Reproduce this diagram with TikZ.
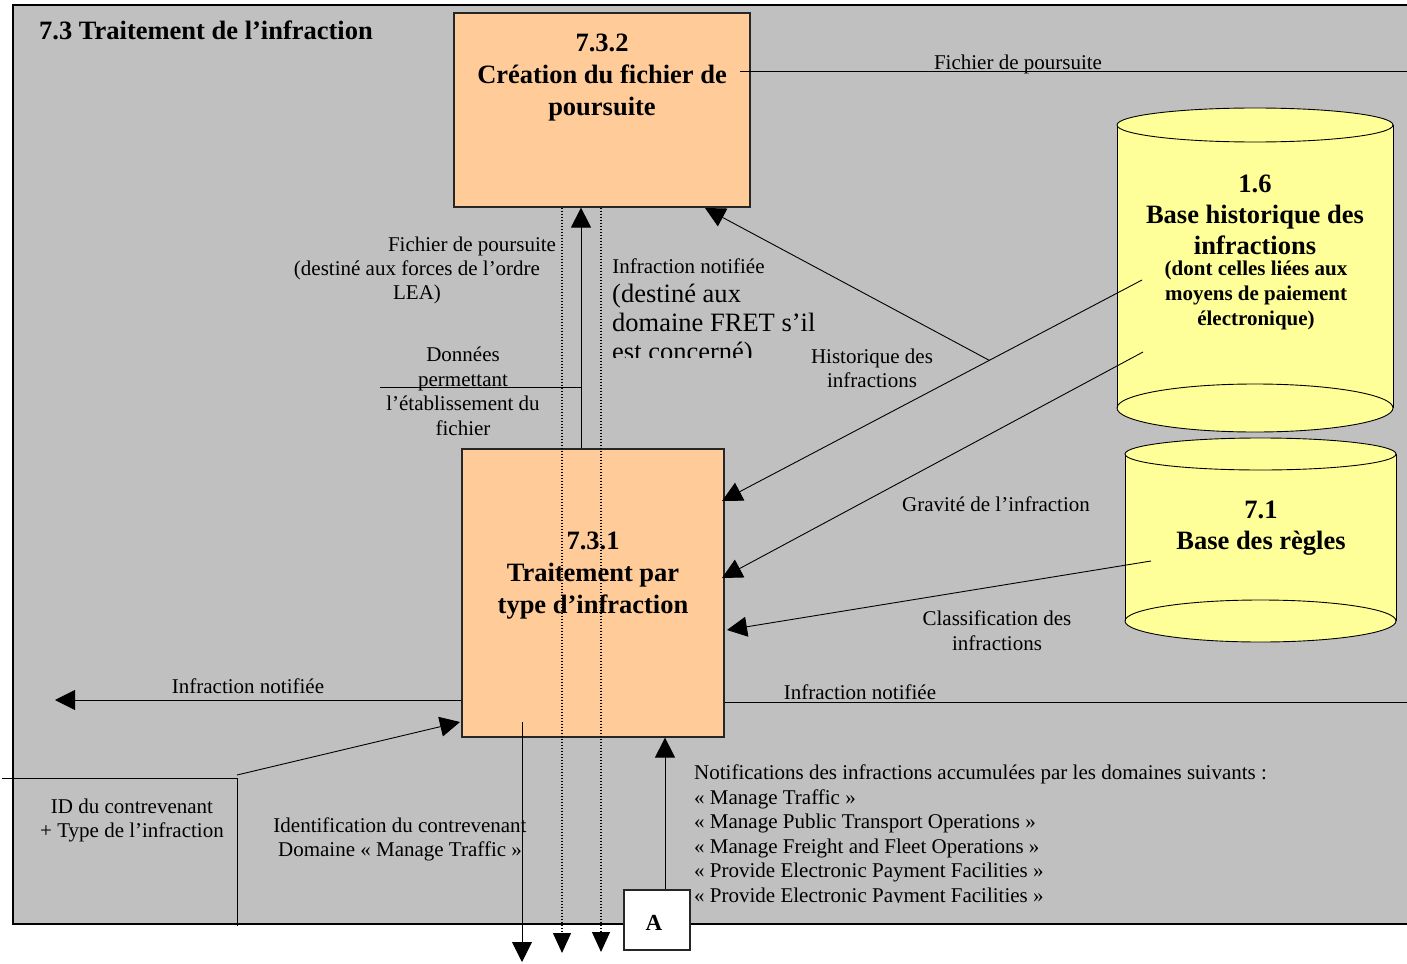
\documentclass[tikz,border=0pt]{standalone}
\usepackage{fontspec}
\setmainfont{Liberation Serif}
\usetikzlibrary{arrows.meta,calc}
\definecolor{panel}{HTML}{C0C0C0}
\definecolor{peach}{HTML}{FFCC99}
\definecolor{store}{HTML}{FFFF99}
\begin{document}
\begin{tikzpicture}[x=1pt,y=-1pt,
  txt/.style={font=\fontsize{21}{24.5}\selectfont, inner sep=0pt, align=center, yshift=-2.5pt},
  bigtxt/.style={font=\fontsize{26.5}{32}\selectfont\bfseries, inner sep=0pt, align=center, yshift=-2.5pt},
  smallbold/.style={font=\fontsize{21}{25}\selectfont\bfseries, inner sep=0pt, align=center, yshift=-2.5pt},
  proc/.style={draw=black!85, fill=peach, line width=1.2pt, inner sep=0pt},
  flow/.style={line width=0.9pt, -{Triangle[length=20pt,width=20pt]}},
  plain/.style={line width=0.9pt},
  dots/.style={line width=1.2pt, dash pattern=on 1.4pt off 1.6pt, -{Triangle[length=20pt,width=18pt]}},
  cyl/.style={fill=store, draw=black, line width=0.9pt}
]
\useasboundingbox (0,0) rectangle (1407,963);
\clip (0,0) rectangle (1407,963);

% panel of the process 7.3
\fill[white] (0,0) rectangle (1407,963);
\draw[fill=panel, line width=1.3pt] (13,5) rectangle (1430,924);
\node[bigtxt, anchor=west] (title) at (39,28) {7.3 Traitement de l’infraction};

% process boxes
\node[proc, minimum width=296pt, minimum height=194pt] (b732) at (602,110) {};
\node[bigtxt] (t732) at (602,75) {7.3.2\\Création du fichier de\\poursuite};
\node[proc, minimum width=262pt, minimum height=288pt] (b731) at (593,593) {};
\node[bigtxt] (t731) at (593,573) {7.3.1\\Traitement par\\type d’infraction};
\node[draw=black!85, fill=white, line width=1.2pt, minimum width=66pt, minimum height=60pt, inner sep=0pt] (boxA) at (657,920) {};
\node[inner sep=0pt, font=\fontsize{23}{26}\selectfont\bfseries] (tA) at (654,923) {A};

% data store 1.6
\fill[store] (1117,125) rectangle (1393,408);
\draw[cyl] (1255,408) ellipse [x radius=138pt, y radius=24pt];
\draw[line width=0.9pt] (1117,125) -- (1117,408) (1393,125) -- (1393,408);
\draw[cyl] (1255,125) ellipse [x radius=138pt, y radius=17pt];
\node[bigtxt, font=\fontsize{26.5}{31}\selectfont\bfseries] (c16) at (1255,212) {1.6\\Base historique des\\infractions};
\node[smallbold] (c16b) at (1256,293) {(dont celles liées aux\\moyens de paiement\\électronique)};

% data store 7.1
\fill[store] (1125,454) rectangle (1396,621);
\draw[cyl] (1260.5,621) ellipse [x radius=135.5pt, y radius=21pt];
\draw[line width=0.9pt] (1125,454) -- (1125,621) (1396,454) -- (1396,621);
\draw[cyl] (1260.5,454) ellipse [x radius=135.5pt, y radius=16pt];
\node[bigtxt, font=\fontsize{26.5}{31}\selectfont\bfseries] (c71) at (1261,526) {7.1\\Base des règles};

% reference points
\coordinate (upx) at (581,0);
\coordinate (d1x) at (562,0);
\coordinate (d2x) at (601,0);
\coordinate (d1end) at (562,953);
\coordinate (d2end) at (601,952);
\coordinate (dnstart) at (522,722);
\coordinate (dnend) at (522,962);
\coordinate (donnees) at (380,387);
\coordinate (fp0) at (740,71);
\coordinate (fp1) at (1430,71);
\coordinate (s1) at (1142,280);
\coordinate (s2) at (1143,352);
\coordinate (s3) at (1151,561);
\coordinate (t1) at (722,501);
\coordinate (t2) at (722,578);
\coordinate (t3) at (727,630);
\coordinate (htip) at (705,208);
\coordinate (inr) at (1430,702);
\coordinate (inl) at (55,700);
\coordinate (idc) at (237,775);
\coordinate (idtip) at (460,722);
\coordinate (idl) at (2,778);
\coordinate (idk) at (237,778);
\coordinate (idb) at (237,926);
\coordinate (ax) at (665,0);

% flows between the two processes
\draw[flow] (b731.north -| upx) -- (b732.south -| upx);
\draw[plain] (donnees) -- (donnees -| upx);
\draw[flow] (dnstart) -- (dnend);
\draw[dots] (b732.south -| d1x) -- (d1end);
\draw[dots] (b732.south -| d2x) -- (d2end);

% flows from the data stores
\draw[plain] (fp0) -- (fp1);
\draw[flow] (s1) -- (t1);
\coordinate (hb) at ($(s1)!0.3636!(t1)$);
\draw[flow] (hb) -- (htip);
\draw[flow] (s2) -- (t2);
\draw[flow] (s3) -- (t3);

% other flows of 7.3.1
\draw[plain] (b731.east |- inr) -- (inr);
\draw[flow] (b731.west |- inl) -- (inl);
\draw[plain] (idl) -- (idk) -- (idb);
\draw[flow] (idc) -- (idtip);
\draw[flow] (boxA.north -| ax) -- (b731.south -| ax);

% flow labels
\node[txt] (lfp) at (1018,62) {Fichier de poursuite};
\node[txt] (lfp1) at (472,244) {Fichier de poursuite};
\node[txt] (lfp2) at (417,268) {(destiné aux forces de l’ordre};
\node[txt] (lfp3) at (417,292) {LEA)};
\node[txt] (ldon) at (463,389) {Données\\permettant\\l’établissement du\\fichier};
\node[txt] (linf) at (688.5,264) {Infraction notifiée};
\begin{scope}
  \clip (600,278) rectangle (840,357);
  \node[txt, align=left, anchor=west, font=\fontsize{26.5}{29}\selectfont] (lfret) at (612,323)
    {(destiné aux\\domaine FRET s’il\\est concerné)};
\end{scope}
\node[txt] (lhist) at (872,366) {Historique des\\infractions};
\node[txt] (lgrav) at (996,502) {Gravité de l’infraction};
\node[txt] (lclass) at (997,628) {Classification des\\infractions};
\node[txt] (linr) at (860,690) {Infraction notifiée};
\node[txt] (linl) at (248,684) {Infraction notifiée};
\node[txt] (lid) at (132,818) {ID du contrevenant\\+ Type de l’infraction};
\node[txt] (lident) at (400,837) {Identification du contrevenant\\Domaine « Manage Traffic »};
\begin{scope}
  \clip (690,750) rectangle (1320,902);
  \node[txt, align=left, anchor=west] (lnotif) at (694,833.5)
    {Notifications des infractions accumulées par les domaines suivants :\\
     « Manage Traffic »\\
     « Manage Public Transport Operations »\\
     « Manage Freight and Fleet Operations »\\
     « Provide Electronic Payment Facilities »\\
     « Provide Electronic Payment Facilities »};
\end{scope}
\end{tikzpicture}
\end{document}
